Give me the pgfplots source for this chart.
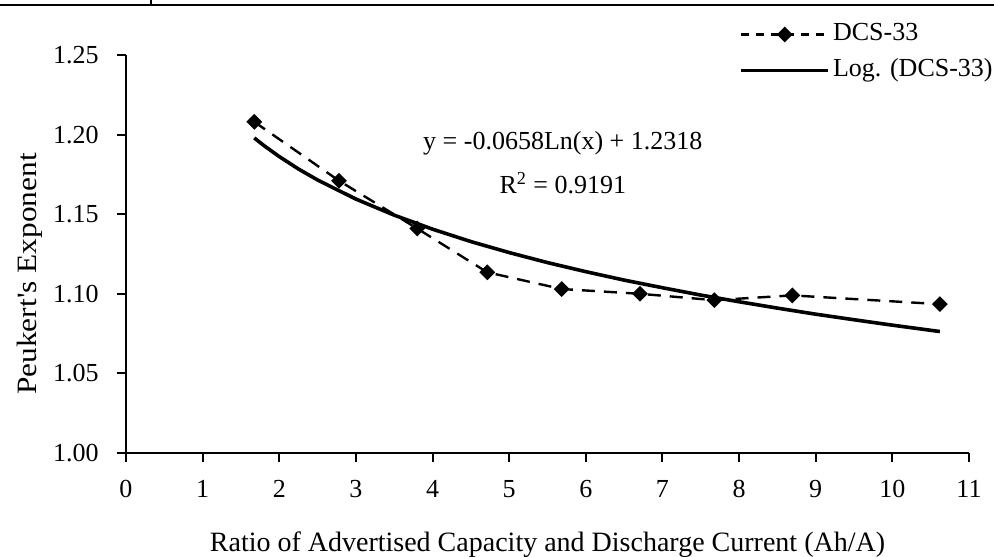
\documentclass[border=0pt]{standalone}
\usepackage{fontspec}
\setmainfont{Liberation Serif}
\usepackage{pgfplots}
\pgfplotsset{compat=1.18}
\pgfplotsset{
  dcs legend/.style={legend image code/.code={%
    \draw[##1, dash pattern=on 4pt off 3.5pt, mark repeat=2, mark phase=2]
      plot coordinates {(0pt,0pt) (21.75pt,0pt) (43.5pt,0pt)};}},
  trend legend/.style={legend image code/.code={%
    \draw[##1] (0pt,0pt) -- (43.5pt,0pt);}},
}

\begin{document}
\fontsize{13}{15}\selectfont
\begin{tikzpicture}
% page frame
\path[use as bounding box] (-63pt,-51.5pt) rectangle (434pt,226.5pt);
% ruled line above the figure
\draw[line width=1pt] (-63pt,224pt) -- (434pt,224pt);
\draw[line width=1pt] (12.5pt,224pt) -- (12.5pt,226.5pt);

\begin{axis}[
  at={(0pt,0pt)}, anchor=south west,
  scale only axis, width=421.5pt, height=199pt,
  xmin=0, xmax=11, ymin=1.00, ymax=1.25,
  xtick={0,1,2,3,4,5,6,7,8,9,10,11},
  ytick={1.00,1.05,1.10,1.15,1.20,1.25},
  axis x line*=bottom, axis y line*=left,
  axis line style={-, line width=1pt},
  tick align=outside, major tick length=4.5pt,
  tick style={line width=1pt, black},
  xtick pos=left, ytick pos=left,
  /pgf/number format/assume math mode=true,
  xticklabel style={anchor=base, inner sep=0pt, yshift=-17.5pt,
    font=\fontsize{13}{15}\selectfont},
  yticklabel style={anchor=east, inner sep=0pt, xshift=-9pt,
    font=\fontsize{13}{15}\selectfont,
    /pgf/number format/.cd, fixed, fixed zerofill, precision=2},
  xlabel={Ratio of Advertised Capacity and Discharge Current (Ah/A)},
  xlabel style={at={(axis description cs:0.5,-0.2487)}, anchor=base,
    font=\fontsize{14}{16}\selectfont},
  ylabel={Peukert\textquotesingle s Exponent},
  ylabel style={at={(axis description cs:-0.114,0.45)}, anchor=center,
    font=\fontsize{14}{16}\selectfont, xscale=1.12},
  legend style={draw=none, fill=none, at={(axis description cs:1.0285,1.084)},
    anchor=north east, inner sep=0pt, row sep=5.5pt, column sep=1.5pt,
    font=\fontsize{13}{15}\selectfont,
    nodes={inner sep=0pt, text height=9.5pt, text depth=3pt}},
  legend cell align=left,
  clip=false,
]
% measured exponents
\addplot[black, line width=1.2pt, dash pattern=on 6.5pt off 4.5pt,
  mark=square*, mark size=2.2pt, mark options={solid, rotate=45}, dcs legend]
  coordinates {
  (1.674,1.208) (2.78,1.171) (3.80,1.141) (4.714,1.1135) (5.685,1.103)
  (6.707,1.100) (7.677,1.096) (8.694,1.099) (10.62,1.0935)
  };
\addlegendentry{DCS-33}
% logarithmic trend line
\addplot[black, line width=1.8pt, trend legend]
  coordinates {
  (1.674,1.1979) (1.8,1.1931) (2.0,1.1862) (2.25,1.1784) (2.5,1.1715)
  (3.0,1.1595) (3.5,1.1494) (4.0,1.1406) (4.5,1.1328) (5.0,1.1259)
  (5.5,1.1196) (6.0,1.1139) (6.5,1.1086) (7.0,1.1038) (7.5,1.0992)
  (8.0,1.0950) (8.5,1.0910) (9.0,1.0872) (9.5,1.0837) (10.0,1.0803)
  (10.62,1.0763)
  };
\addlegendentry{Log. (DCS-33)}
\node[font=\fontsize{13}{15}\selectfont] at (axis cs:5.70,1.1947) {y = -0.0658Ln(x) + 1.2318};
\node[font=\fontsize{13}{15}\selectfont] at (axis cs:5.70,1.1696) {R\textsuperscript{2} = 0.9191};
\end{axis}
\end{tikzpicture}
\end{document}
